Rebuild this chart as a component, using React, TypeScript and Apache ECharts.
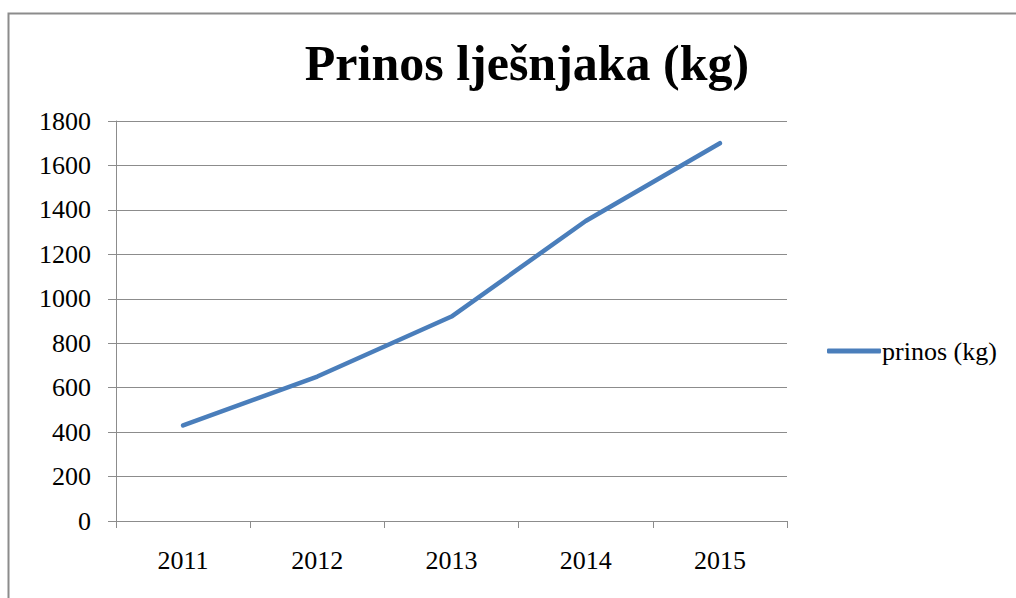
import React, { useEffect, useRef } from "react";
import * as echarts from "echarts";

const categories = ["2011", "2012", "2013", "2014", "2015"];
const prinos = [430, 650, 920, 1350, 1700];
const seriesName = "prinos (kg)";
const title = "Prinos lješnjaka (kg)";

export default function App() {
  const ref = useRef<HTMLDivElement>(null);
  useEffect(() => {
    if (!ref.current) return;
    const chart = echarts.init(ref.current, null, { renderer: "svg" });
    const font = "Liberation Serif";
    chart.setOption({
      animation: false,
      backgroundColor: "#fff",
      textStyle: { fontFamily: font },
      title: {
        text: title,
        left: 522,
        textAlign: "center",
        top: 33,
        textStyle: { fontFamily: font, fontSize: 50, fontWeight: "bold", color: "#000" },
      },
      legend: {
        data: [seriesName],
        left: 822,
        top: 333,
        icon: "roundRect",
        itemWidth: 54,
        itemHeight: 5,
        itemGap: 0,
        textStyle: { fontFamily: font, fontSize: 26, color: "#000", padding: [0, 0, 0, -4] },
      },
      graphic: [
        {
          type: "rect",
          shape: { x: 8.5, y: 13.5, width: 1100, height: 700 },
          style: { fill: "none", stroke: "#8c8c8c", lineWidth: 2 },
          silent: true,
        },
      ],
      grid: { left: 116, right: 229, top: 121, bottom: 77 },
      xAxis: {
        type: "category",
        data: categories,
        boundaryGap: true,
        axisLine: { lineStyle: { color: "#8c8c8c", width: 1 } },
        axisTick: { show: true, length: 7, lineStyle: { color: "#8c8c8c" } },
        axisLabel: { fontFamily: font, fontSize: 26, color: "#000", margin: 26 },
      },
      yAxis: {
        type: "value",
        min: 0,
        max: 1800,
        interval: 200,
        axisLine: { show: true, lineStyle: { color: "#8c8c8c", width: 1 } },
        axisTick: { show: true, length: 8, lineStyle: { color: "#8c8c8c" } },
        splitLine: { show: true, lineStyle: { color: "#8c8c8c", width: 1 } },
        axisLabel: {
          fontFamily: font,
          fontSize: 26,
          color: "#000",
          margin: 25,
          formatter: (v: number) => String(v),
        },
      },
      series: [
        {
          name: seriesName,
          type: "line",
          data: prinos,
          symbol: "none",
          lineStyle: { color: "#4a7ebb", width: 4.5, cap: "round", join: "round" },
          itemStyle: { color: "#4a7ebb" },
        },
      ],
    });
    return () => chart.dispose();
  }, []);
  return (
    <div
      ref={ref}
      style={{ position: "fixed", left: 0, top: 0, width: 1016, height: 598 }}
    />
  );
}
